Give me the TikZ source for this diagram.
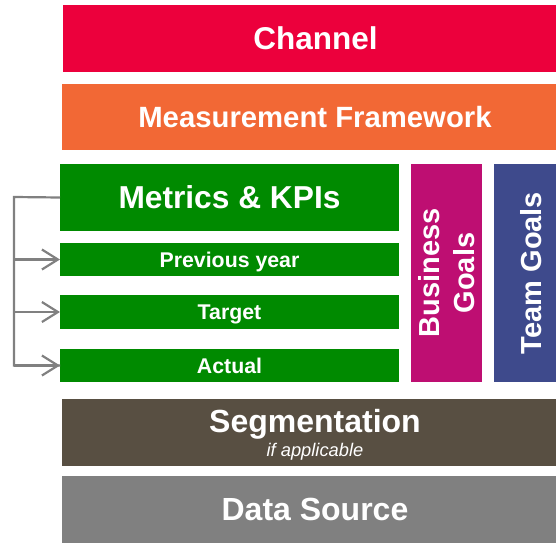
\documentclass[tikz,border=0pt]{standalone}
\usepackage{xcolor}
\usepackage{fontspec}
\setmainfont{Liberation Sans}
\usepackage{tikz}
\usetikzlibrary{arrows.meta}
\definecolor{channelred}{RGB}{236,0,60}
\definecolor{frameorange}{RGB}{242,104,53}
\definecolor{kpigreen}{RGB}{0,138,0}
\definecolor{goalmagenta}{RGB}{190,14,114}
\definecolor{teamblue}{RGB}{62,74,140}
\definecolor{segbrown}{RGB}{88,79,66}
\definecolor{sourcegrey}{RGB}{128,128,128}
\definecolor{linkgrey}{RGB}{128,128,128}

\tikzset{
    layer/.style={inner sep=0pt, outer sep=0pt, anchor=north west, text=white,
        font=\bfseries, align=center, text depth=0pt},
    goal/.style={inner sep=0pt, outer sep=0pt, rotate=90, text=white,
        font=\bfseries\fontsize{29}{35}\selectfont, align=center,
        minimum width=218pt},
    link/.style={draw=linkgrey, line width=2.2pt}
}

\begin{document}
\begin{tikzpicture}[x=1pt, y=-1pt]
    \useasboundingbox (0,0) rectangle (556,543);
    % wide layers run on past the right edge
    \clip (0,0) rectangle (556,543);

    % Top layers
    \node[layer, fill=channelred, minimum width=505pt, minimum height=67pt, text height=22.6pt,
        font=\bfseries\fontsize{31.5}{31.5}\selectfont] (chan) at (63,5) {Channel};
    \node[layer, fill=frameorange, minimum width=506pt, minimum height=66pt, text height=21pt,
        font=\bfseries\fontsize{29.3}{29.3}\selectfont] (meas) at (62,84) {Measurement Framework};

    % Green metric rows
    \node[layer, fill=kpigreen, minimum width=339pt, minimum height=67pt, text height=22.7pt,
        font=\bfseries\fontsize{31.7}{31.7}\selectfont] (kpi) at (60,164) {Metrics \& KPIs};
    \node[layer, fill=kpigreen, minimum width=339pt, minimum height=33pt, text height=15.3pt,
        font=\bfseries\fontsize{21.3}{21.3}\selectfont] (prev) at (60,243) {Previous year};
    \node[layer, fill=kpigreen, minimum width=339pt, minimum height=34pt, text height=15.3pt,
        font=\bfseries\fontsize{21.3}{21.3}\selectfont] (target) at (60,295) {Target};
    \node[layer, fill=kpigreen, minimum width=339pt, minimum height=33pt, text height=15.3pt,
        font=\bfseries\fontsize{21.3}{21.3}\selectfont] (actual) at (60,349) {Actual};

    % Goal columns
    \node[goal, fill=goalmagenta, minimum height=71pt] (bus) at (446.5,273) {Business\\Goals};
    \node[goal, fill=teamblue, minimum height=74pt, text height=21pt, text depth=0pt]
        (team) at (531,273) {Team Goals};

    % Bottom layers
    \node[layer, fill=segbrown, minimum width=506pt, minimum height=67pt,
        text height=47pt, text depth=0pt,
        font=\bfseries\fontsize{32}{24}\selectfont] (seg) at (62,399)
        {Segmentation\\{\mdseries\itshape\fontsize{18.3}{24}\selectfont if applicable}};
    \node[layer, fill=sourcegrey, minimum width=506pt, minimum height=67pt, text height=22.9pt,
        font=\bfseries\fontsize{32}{32}\selectfont] (src) at (62,476) {Data Source};

    % Feedback rail
    \coordinate (railtop) at (14,197);
    \draw[link] (kpi.west) -- (railtop) |- (actual.west);
    \foreach \row in {prev, target, actual}
        \draw[link, -{Straight Barb[length=16pt, width=20pt]}] (railtop |- \row.west) -- (\row.west);

\end{tikzpicture}
\end{document}
